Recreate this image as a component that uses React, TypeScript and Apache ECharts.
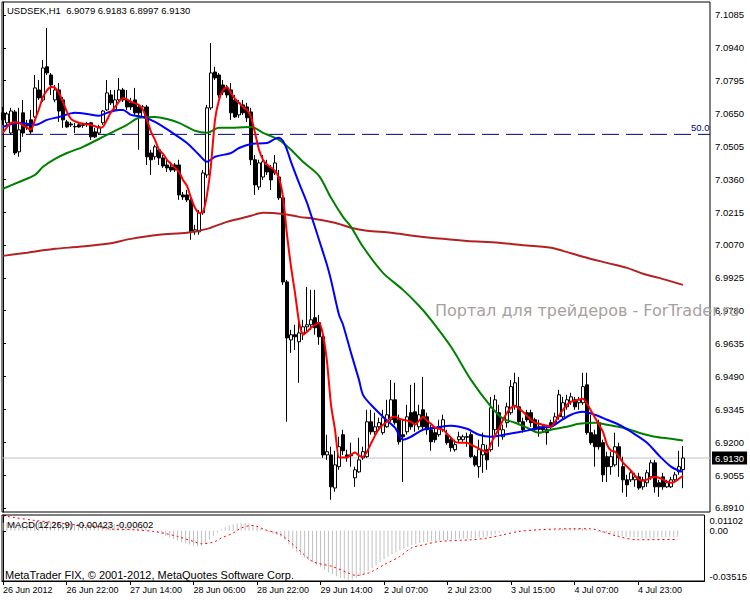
import React, { useEffect, useRef } from 'react';
import * as echarts from 'echarts';

const TIME_LABELS = ['26 Jun 2012', '26 Jun 22:00', '27 Jun 14:00', '28 Jun 06:00', '28 Jun 22:00', '29 Jun 14:00', '2 Jul 07:00', '2 Jul 23:00', '3 Jul 15:00', '4 Jul 07:00', '4 Jul 23:00'];
const TIME_LABEL_BARS = [0, 16, 32, 48, 64, 80, 96, 112, 128, 144, 160];
const PRICE_TICKS = [6.891, 6.9055, 6.92, 6.9345, 6.949, 6.9635, 6.978, 6.9925, 7.007, 7.0215, 7.036, 7.0505, 7.065, 7.0795, 7.094, 7.1085];
const MACD_TICKS = [-0.03515, 0, 0.01102];

const OPEN = [7.0653, 7.0609, 7.0564, 7.0657, 7.0481, 7.0653, 7.06, 7.0622, 7.0635, 7.0754, 7.071, 7.0856, 7.082, 7.071, 7.0754, 7.071, 7.0613, 7.0604, 7.0591, 7.06, 7.06, 7.0604, 7.0609, 7.0569, 7.0564, 7.0609, 7.0666, 7.0732, 7.0666, 7.071, 7.0754, 7.071, 7.0697, 7.071, 7.0679, 7.0635, 7.0679, 7.0476, 7.0459, 7.049, 7.0454, 7.0423, 7.0414, 7.0423, 7.0423, 7.0291, 7.0291, 7.0269, 7.0128, 7.0128, 7.0212, 7.0379, 7.0675, 7.0833, 7.082, 7.0776, 7.0763, 7.0754, 7.071, 7.0644, 7.0688, 7.0679, 7.0657, 7.0446, 7.0326, 7.037, 7.0423, 7.041, 7.0388, 7.037, 7.0278, 6.9907, 6.9651, 6.9674, 6.9643, 6.9682, 6.9709, 6.9718, 6.9749, 6.9727, 6.9665, 6.9144, 6.9144, 6.8998, 6.9092, 6.9233, 6.9144, 6.9144, 6.9043, 6.9069, 6.9131, 6.9136, 6.929, 6.9246, 6.9268, 6.9242, 6.9268, 6.9299, 6.9387, 6.9299, 6.9233, 6.9246, 6.933, 6.9334, 6.9268, 6.9343, 6.9312, 6.9255, 6.9242, 6.9233, 6.9255, 6.9233, 6.9211, 6.9167, 6.9211, 6.9211, 6.9224, 6.9233, 6.9136, 6.9092, 6.9144, 6.9167, 6.9167, 6.9255, 6.933, 6.9224, 6.9286, 6.933, 6.9356, 6.9356, 6.929, 6.933, 6.933, 6.9299, 6.9268, 6.9268, 6.9255, 6.9286, 6.9286, 6.9312, 6.9312, 6.9356, 6.9378, 6.9387, 6.9374, 6.9374, 6.9453, 6.9242, 6.9233, 6.9286, 6.9198, 6.9136, 6.9092, 6.91, 6.918, 6.9092, 6.9034, 6.9034, 6.9034, 6.9047, 6.9003, 6.9021, 6.9047, 6.9109, 6.9021, 6.9047, 6.9003, 6.9003, 6.9034, 6.9069, 6.9079];
const HIGH = [7.0679, 7.0657, 7.0675, 7.0666, 7.0675, 7.071, 7.0622, 7.0666, 7.082, 7.0798, 7.0886, 7.1028, 7.0829, 7.0776, 7.0785, 7.0723, 7.0622, 7.0613, 7.0609, 7.0609, 7.0609, 7.0613, 7.0613, 7.0587, 7.06, 7.0666, 7.0798, 7.0754, 7.0754, 7.0807, 7.0763, 7.0754, 7.0719, 7.0763, 7.0688, 7.0688, 7.0688, 7.049, 7.0512, 7.0498, 7.0467, 7.0446, 7.0437, 7.0432, 7.0446, 7.0304, 7.0313, 7.0278, 7.0159, 7.0225, 7.0401, 7.0688, 7.0961, 7.0856, 7.0829, 7.0798, 7.0776, 7.0785, 7.0732, 7.071, 7.071, 7.0697, 7.0675, 7.0467, 7.0446, 7.0467, 7.0446, 7.0423, 7.0467, 7.0401, 7.0291, 6.9916, 6.9696, 6.9718, 6.9762, 6.974, 6.9885, 6.9872, 6.9872, 6.9762, 6.9696, 6.9233, 6.918, 6.9162, 6.9224, 6.9255, 6.9167, 6.9198, 6.9092, 6.922, 6.918, 6.9343, 6.9343, 6.933, 6.9308, 6.9343, 6.9387, 6.9475, 6.9462, 6.9321, 6.9299, 6.9365, 6.9453, 6.9462, 6.9365, 6.9488, 6.933, 6.9277, 6.9268, 6.9299, 6.9321, 6.9255, 6.9224, 6.9211, 6.9246, 6.9233, 6.9242, 6.9246, 6.9144, 6.9211, 6.9242, 6.9189, 6.94, 6.9409, 6.9365, 6.9277, 6.9374, 6.9475, 6.9506, 6.9488, 6.9308, 6.9343, 6.9343, 6.9308, 6.9299, 6.9277, 6.9268, 6.9299, 6.933, 6.9431, 6.94, 6.9409, 6.9418, 6.94, 6.94, 6.9506, 6.9506, 6.9321, 6.9255, 6.9299, 6.9211, 6.9158, 6.9158, 6.9242, 6.9198, 6.9136, 6.9056, 6.9078, 6.9065, 6.9065, 6.9047, 6.9078, 6.9122, 6.9122, 6.9034, 6.9065, 6.9034, 6.9047, 6.9069, 6.9162, 6.9183];
const LOW = [7.06, 7.06, 7.0556, 7.0467, 7.0459, 7.0547, 7.0578, 7.056, 7.0631, 7.071, 7.0701, 7.082, 7.0732, 7.07, 7.0613, 7.0587, 7.0587, 7.0591, 7.0564, 7.0587, 7.0587, 7.0591, 7.0534, 7.0542, 7.0556, 7.06, 7.0661, 7.0688, 7.0661, 7.0701, 7.0701, 7.0666, 7.0666, 7.0644, 7.049, 7.0631, 7.0423, 7.0379, 7.0446, 7.0423, 7.041, 7.0392, 7.0392, 7.0392, 7.0269, 7.0269, 7.026, 7.0093, 7.0115, 7.0115, 7.0203, 7.0366, 7.0666, 7.0798, 7.0719, 7.0732, 7.0719, 7.0622, 7.0631, 7.0631, 7.0644, 7.0613, 7.0423, 7.0291, 7.0313, 7.0357, 7.0379, 7.0313, 7.0379, 7.0269, 6.9894, 6.929, 6.9594, 6.9607, 6.9462, 6.9651, 6.9687, 6.9696, 6.9674, 6.963, 6.9131, 6.9122, 6.8946, 6.8981, 6.9078, 6.9144, 6.9114, 6.9092, 6.9003, 6.9065, 6.9122, 6.9131, 6.9233, 6.9233, 6.9255, 6.9233, 6.9264, 6.929, 6.9277, 6.9189, 6.9024, 6.9233, 6.9255, 6.9246, 6.9255, 6.9255, 6.9233, 6.9162, 6.9198, 6.9224, 6.9246, 6.9189, 6.9158, 6.9158, 6.9198, 6.9202, 6.918, 6.9131, 6.9092, 6.9043, 6.9065, 6.9078, 6.9158, 6.9233, 6.918, 6.9211, 6.9264, 6.9321, 6.9343, 6.9286, 6.9242, 6.929, 6.9268, 6.9246, 6.9224, 6.9246, 6.9189, 6.9255, 6.9277, 6.9299, 6.9299, 6.9343, 6.9365, 6.9343, 6.9343, 6.9365, 6.9233, 6.9189, 6.9092, 6.9167, 6.9024, 6.9024, 6.9056, 6.9092, 6.9047, 6.8977, 6.8959, 6.9024, 6.9003, 6.899, 6.899, 6.9003, 6.9034, 6.8977, 6.8959, 6.899, 6.8998, 6.8998, 6.9024, 6.9056, 6.8997];
const CLOSE = [7.0622, 7.0648, 7.0661, 7.0476, 7.0578, 7.0564, 7.0595, 7.0569, 7.0763, 7.0719, 7.0851, 7.0829, 7.0776, 7.0754, 7.0661, 7.0622, 7.0591, 7.06, 7.0593, 7.0591, 7.0598, 7.0606, 7.0547, 7.0547, 7.0591, 7.0661, 7.0741, 7.0697, 7.071, 7.0754, 7.071, 7.0679, 7.0679, 7.0653, 7.0653, 7.0679, 7.0459, 7.0446, 7.0503, 7.0454, 7.0419, 7.041, 7.0401, 7.0401, 7.0291, 7.0282, 7.0269, 7.0128, 7.0137, 7.0212, 7.0388, 7.0675, 7.0829, 7.0807, 7.0732, 7.0745, 7.0732, 7.0653, 7.0635, 7.0697, 7.0653, 7.0631, 7.0446, 7.0335, 7.0432, 7.0437, 7.0392, 7.0357, 7.0432, 7.0278, 6.9907, 6.966, 6.9674, 6.9665, 6.9682, 6.9709, 6.9718, 6.974, 6.9705, 6.9665, 6.9144, 6.9158, 6.9003, 6.91, 6.918, 6.9162, 6.9136, 6.914, 6.9078, 6.9122, 6.9158, 6.929, 6.9246, 6.9268, 6.9286, 6.9308, 6.9321, 6.9387, 6.9286, 6.9202, 6.9224, 6.9312, 6.9268, 6.9286, 6.9321, 6.9268, 6.9255, 6.9202, 6.9211, 6.9268, 6.9299, 6.9198, 6.9176, 6.9189, 6.9224, 6.9224, 6.9222, 6.9136, 6.91, 6.9167, 6.9189, 6.9122, 6.9352, 6.9387, 6.9255, 6.9255, 6.9356, 6.9445, 6.9462, 6.929, 6.9255, 6.9299, 6.9286, 6.9255, 6.9257, 6.9255, 6.9242, 6.9268, 6.9312, 6.9409, 6.9374, 6.9387, 6.94, 6.9356, 6.9387, 6.9445, 6.9242, 6.9198, 6.918, 6.918, 6.9056, 6.9092, 6.9136, 6.918, 6.9131, 6.9034, 6.9012, 6.9065, 6.9047, 6.8998, 6.9034, 6.9065, 6.9109, 6.9003, 6.9003, 6.9003, 6.9021, 6.9034, 6.9056, 6.9092, 6.913];

const RED_MA = [7.0565, 7.059, 7.0609, 7.0612, 7.0609, 7.0598, 7.0587, 7.0578, 7.0622, 7.067, 7.0723, 7.0752, 7.0767, 7.0763, 7.0741, 7.0701, 7.0657, 7.0626, 7.0615, 7.0609, 7.0605, 7.0602, 7.06, 7.0594, 7.0587, 7.0591, 7.0622, 7.0657, 7.0679, 7.0703, 7.0719, 7.0712, 7.0701, 7.0695, 7.0688, 7.0666, 7.0622, 7.0569, 7.0534, 7.049, 7.0472, 7.0446, 7.0428, 7.0411, 7.0393, 7.0357, 7.0331, 7.0278, 7.0234, 7.0212, 7.0216, 7.0291, 7.0424, 7.0622, 7.071, 7.0754, 7.0767, 7.0741, 7.0715, 7.0697, 7.0679, 7.0666, 7.0635, 7.0565, 7.049, 7.0446, 7.0424, 7.0411, 7.0397, 7.0366, 7.0282, 7.0115, 6.9974, 6.9859, 6.9731, 6.9674, 6.9687, 6.9705, 6.9718, 6.9727, 6.9674, 6.9555, 6.9365, 6.9255, 6.9132, 6.9132, 6.9132, 6.9145, 6.9154, 6.9141, 6.9136, 6.9158, 6.9194, 6.9229, 6.9259, 6.9277, 6.929, 6.9308, 6.9312, 6.9304, 6.9299, 6.9295, 6.929, 6.9277, 6.9295, 6.9312, 6.9295, 6.9281, 6.9264, 6.9259, 6.9255, 6.9237, 6.922, 6.9202, 6.9198, 6.9198, 6.9198, 6.9189, 6.918, 6.9172, 6.9163, 6.9154, 6.9194, 6.9229, 6.9259, 6.9299, 6.933, 6.9352, 6.9361, 6.9348, 6.9334, 6.9317, 6.9299, 6.9286, 6.9281, 6.9277, 6.9273, 6.9268, 6.929, 6.9317, 6.9343, 6.9365, 6.9379, 6.9383, 6.9388, 6.9392, 6.937, 6.9339, 6.9308, 6.9277, 6.9246, 6.9189, 6.9163, 6.9158, 6.9136, 6.911, 6.9092, 6.9074, 6.9052, 6.9035, 6.903, 6.9035, 6.9043, 6.9048, 6.9043, 6.9035, 6.9026, 6.9021, 6.9026, 6.9039, 6.9052];

const BLUE_MA = [[0, 7.0591], [4, 7.0609], [8, 7.06], [11, 7.0622], [14, 7.0635], [18, 7.0653], [21, 7.0648], [24, 7.064], [26, 7.0653], [29, 7.0666], [30, 7.0666], [32, 7.0644], [35, 7.0635], [38, 7.0613], [42, 7.0569], [46, 7.052], [49, 7.0468], [51, 7.0437], [53, 7.0459], [57, 7.0476], [59, 7.0498], [62, 7.0516], [66, 7.052], [68, 7.0538], [69, 7.0543], [70, 7.0529], [71, 7.049], [72, 7.0437], [74, 7.0344], [76, 7.0256], [77, 7.0203], [79, 7.0093], [81, 6.9982], [82, 6.9916], [84, 6.9762], [85, 6.9718], [87, 6.9594], [89, 6.9475], [90, 6.9409], [92, 6.9365], [95, 6.9312], [98, 6.9264], [100, 6.9211], [102, 6.9224], [105, 6.9255], [108, 6.9264], [112, 6.9273], [116, 6.9259], [119, 6.9233], [122, 6.9224], [124, 6.9229], [128, 6.9242], [131, 6.9251], [134, 6.9264], [137, 6.9268], [139, 6.929], [142, 6.9321], [145, 6.9334], [148, 6.9321], [151, 6.9299], [154, 6.9277], [157, 6.9246], [161, 6.9198], [164, 6.9141], [167, 6.9092], [169, 6.9074], [170, 6.907]];
const GREEN_MA = [[0, 7.0318], [4, 7.0348], [8, 7.0379], [10, 7.0415], [13, 7.045], [16, 7.0476], [20, 7.0503], [26, 7.0556], [31, 7.06], [34, 7.0631], [38, 7.0635], [41, 7.0626], [44, 7.0609], [48, 7.0574], [51, 7.0565], [54, 7.0587], [58, 7.0587], [62, 7.0591], [65, 7.0565], [69, 7.0534], [72, 7.049], [75, 7.0437], [79, 7.0375], [82, 7.0278], [85, 7.0194], [87, 7.015], [90, 7.0062], [95, 6.9947], [100, 6.9872], [104, 6.9802], [107, 6.974], [112, 6.9621], [117, 6.9475], [122, 6.9357], [125, 6.9304], [128, 6.9286], [131, 6.9264], [134, 6.9242], [137, 6.9255], [141, 6.9268], [144, 6.9281], [148, 6.9286], [151, 6.9277], [155, 6.9264], [159, 6.9242], [163, 6.9224], [167, 6.9215], [170, 6.9207]];
const BROWN_MA = [[0, 7.0022], [6, 7.0036], [13, 7.0053], [19, 7.0062], [26, 7.0075], [32, 7.0097], [39, 7.0115], [46, 7.0124], [51, 7.0141], [56, 7.0172], [62, 7.0199], [65, 7.0212], [70, 7.0207], [74, 7.0194], [78, 7.0185], [83, 7.0168], [87, 7.0146], [91, 7.0133], [97, 7.0124], [103, 7.011], [110, 7.0097], [116, 7.0088], [124, 7.008], [129, 7.0071], [137, 7.0058], [140, 7.0044], [145, 7.0018], [151, 6.9991], [156, 6.9969], [160, 6.9943], [164, 6.9925], [170, 6.9894]];

const MACD_MAIN = [0.0056, 0.0058, 0.0058, 0.0056, 0.0054, 0.0053, 0.0052, 0.0052, 0.0055, 0.0058, 0.0061, 0.0063, 0.0063, 0.0062, 0.006, 0.0057, 0.0054, 0.0051, 0.0048, 0.0046, 0.0044, 0.0042, 0.004, 0.0038, 0.0038, 0.004, 0.0043, 0.0045, 0.0046, 0.0047, 0.0047, 0.0046, 0.0044, 0.0041, 0.0036, 0.003, 0.002, 0.001, 0.0, -0.0012, -0.0024, -0.0036, -0.0047, -0.0058, -0.0068, -0.0078, -0.0087, -0.0096, -0.0104, -0.011, -0.0105, -0.0088, -0.0062, -0.0036, -0.0012, 0.0008, 0.0024, 0.0036, 0.0045, 0.0051, 0.0054, 0.0054, 0.005, 0.0042, 0.003, 0.0016, 0.0002, -0.001, -0.002, -0.003, -0.0042, -0.0066, -0.0095, -0.0125, -0.015, -0.017, -0.0188, -0.0204, -0.022, -0.0236, -0.0254, -0.0272, -0.029, -0.0305, -0.0318, -0.0328, -0.0336, -0.0342, -0.034, -0.033, -0.0318, -0.0302, -0.0282, -0.0262, -0.024, -0.0218, -0.0198, -0.018, -0.0163, -0.0148, -0.0135, -0.0122, -0.011, -0.01, -0.0092, -0.0085, -0.008, -0.0076, -0.0073, -0.0071, -0.0069, -0.0067, -0.0064, -0.0061, -0.0058, -0.0056, -0.0054, -0.0052, -0.0051, -0.005, -0.0048, -0.0045, -0.004, -0.0033, -0.0025, -0.0016, -0.0009, -0.0002, 0.0003, 0.0005, 0.0005, 0.0004, 0.0003, 0.0003, 0.0002, 0.0002, 0.0002, 0.0002, 0.0004, 0.0007, 0.001, 0.0013, 0.0015, 0.0016, 0.0017, 0.0018, 0.0015, 0.001, 0.0005, 0.0, -0.0008, -0.0015, -0.0021, -0.0027, -0.0032, -0.0036, -0.0039, -0.0042, -0.0044, -0.0046, -0.0047, -0.0048, -0.0049, -0.0049, -0.0049, -0.0048, -0.0047, -0.0046, -0.0045, -0.0044, -0.00423];
const MACD_SIGNAL = [[0, 0.0105], [3, 0.0092], [8, 0.0072], [13, 0.0058], [18, 0.0042], [23, 0.003], [27, 0.0012], [33, 0.0007], [38, -0.0005], [41, -0.002], [44, -0.004], [48, -0.0075], [50, -0.0091], [53, -0.008], [55, -0.0051], [58, -0.0016], [60, 0.0019], [62, 0.0035], [63, 0.0037], [66, 0.0007], [70, -0.0028], [74, -0.0119], [78, -0.0215], [83, -0.025], [87, -0.0296], [89, -0.0313], [92, -0.0296], [93, -0.0285], [96, -0.0238], [100, -0.018], [103, -0.0119], [106, -0.0098], [110, -0.0075], [118, -0.0063], [122, -0.0051], [126, -0.0028], [130, -0.0005], [135, 0.0007], [143, 0.0014], [148, 0.0014], [151, -0.0005], [155, -0.004], [160, -0.0063], [170, -0.00602]];

const FIB_50 = 7.0558;
const LAST_PRICE = 6.913;
const X_MIN = -0.25;
const X_MAX = 176.75;

const FONT = 'Liberation Sans';

export default function App() {
  const ref = useRef<HTMLDivElement>(null);
  useEffect(() => {
    if (!ref.current) return;
    const chart = echarts.init(ref.current, null, { renderer: 'svg' });
    const candles = OPEN.map((o, i) => [i, o, CLOSE[i], LOW[i], HIGH[i]]);
    const option: any = {
      animation: false,
      backgroundColor: '#fff',
      textStyle: { fontFamily: FONT },
      grid: [
        { left: 2, top: 2, width: 708, height: 510, show: true, borderColor: '#000', borderWidth: 1, backgroundColor: '#fff' },
        { left: 2, top: 515, width: 708, height: 66, show: true, borderColor: '#000', borderWidth: 1, backgroundColor: '#fff' },
      ],
      xAxis: [
        { type: 'value', gridIndex: 0, min: X_MIN, max: X_MAX, show: false, splitLine: { show: false } },
        {
          type: 'value', gridIndex: 1, min: X_MIN, max: X_MAX, position: 'bottom',
          axisLine: { show: true, onZero: false, lineStyle: { color: '#000', width: 1 } },
          axisTick: { show: true, customValues: TIME_LABEL_BARS, length: 4, lineStyle: { color: '#000' } },
          axisLabel: {
            customValues: TIME_LABEL_BARS, align: 'left', margin: 4, fontSize: 9, color: '#000', fontFamily: FONT,
            formatter: (v: number) => { const k = TIME_LABEL_BARS.indexOf(Math.round(v)); return k >= 0 ? TIME_LABELS[k] : ''; },
          },
          splitLine: { show: false },
        },
      ],
      yAxis: [
        {
          type: 'value', gridIndex: 0, min: 6.8892, max: 7.1142, position: 'right',
          axisLine: { show: true, lineStyle: { color: '#000' } },
          axisTick: { show: true, customValues: PRICE_TICKS, length: 3, lineStyle: { color: '#000' } },
          axisLabel: { customValues: PRICE_TICKS, margin: 5, fontSize: 9.5, color: '#000', fontFamily: FONT, formatter: (v: number) => v.toFixed(4) },
          splitLine: { show: false },
        },
        {
          type: 'value', gridIndex: 1, min: -0.03515, max: 0.01102, position: 'right',
          axisLine: { show: true, lineStyle: { color: '#000' } },
          axisTick: { show: true, customValues: MACD_TICKS, length: 3, lineStyle: { color: '#000' } },
          axisLabel: {
            customValues: MACD_TICKS, margin: 5, fontSize: 9.5, color: '#000', fontFamily: FONT,
            formatter: (v: number) => {
              if (Math.abs(v) < 1e-9) return '0.00';
              if (v > 0) return '{t|' + v.toFixed(5) + '}';
              return '{b|' + v.toFixed(5) + '}';
            },
            rich: {
              t: { padding: [10, 0, 0, 0], fontSize: 9.5, color: '#000', fontFamily: FONT },
              b: { padding: [0, 0, 10, 0], fontSize: 9.5, color: '#000', fontFamily: FONT },
            },
          },
          splitLine: { show: false },
        },
      ],
      series: [
        {
          type: 'line', xAxisIndex: 0, yAxisIndex: 0, data: [[X_MIN, LAST_PRICE], [X_MAX, LAST_PRICE]], showSymbol: false, z: 1, silent: true,
          lineStyle: { color: '#c0c0c0', width: 1 },
          endLabel: { show: true, distance: 2, formatter: LAST_PRICE.toFixed(4), color: '#fff', backgroundColor: '#000', padding: [2, 3, 1, 3], fontSize: 9.5, fontFamily: FONT },
        },
        {
          type: 'candlestick', xAxisIndex: 0, yAxisIndex: 0, data: candles, barWidth: 3, z: 2,
          itemStyle: { color: '#fff', color0: '#000', borderColor: '#000', borderColor0: '#000', borderWidth: 1 },
        },
        {
          type: 'line', xAxisIndex: 0, yAxisIndex: 0, data: [[X_MIN, FIB_50], [X_MAX, FIB_50]], showSymbol: false, z: 2, silent: true,
          lineStyle: { color: '#000080', width: 1, type: [17, 7] },
          endLabel: { show: true, distance: 5, offset: [-24, -7], formatter: '50.0', color: '#000080', fontSize: 9.5, fontFamily: FONT },
        },
        { type: 'line', xAxisIndex: 0, yAxisIndex: 0, data: BROWN_MA, showSymbol: false, smooth: 0.3, z: 3, lineStyle: { color: '#b22222', width: 2 } },
        { type: 'line', xAxisIndex: 0, yAxisIndex: 0, data: GREEN_MA, showSymbol: false, smooth: 0.3, z: 4, lineStyle: { color: '#008000', width: 2 } },
        { type: 'line', xAxisIndex: 0, yAxisIndex: 0, data: BLUE_MA, showSymbol: false, smooth: 0.3, z: 5, lineStyle: { color: '#0000ff', width: 2 } },
        { type: 'line', xAxisIndex: 0, yAxisIndex: 0, data: RED_MA.map((v, i) => [i, v]), showSymbol: false, smooth: 0.2, z: 6, lineStyle: { color: '#ff0000', width: 2 } },
        { type: 'bar', xAxisIndex: 1, yAxisIndex: 1, data: MACD_MAIN.map((v, i) => [i, v]), barWidth: 1, itemStyle: { color: '#c0c0c0' } },
        { type: 'line', xAxisIndex: 1, yAxisIndex: 1, data: MACD_SIGNAL, showSymbol: false, smooth: 0.3, lineStyle: { color: '#ff0000', width: 1, type: [2, 3] } },
      ],
      graphic: [
        { type: 'text', left: 7, top: 5, z: 100, style: { text: 'USDSEK,H1  6.9079 6.9183 6.8997 6.9130', fontSize: 9.5, fontFamily: FONT, fill: '#000' } },
        { type: 'text', left: 435, top: 302, z: 100, style: { text: 'Портал для трейдеров - ForTrader.ru', fontSize: 16, fontFamily: 'DejaVu Sans', fill: '#a8a0a0' } },
        { type: 'text', left: 7, top: 519, z: 100, style: { text: 'MACD(12,26,9) -0.00423 -0.00602', fontSize: 9.5, fontFamily: FONT, fill: '#000' } },
        { type: 'text', left: 5, top: 569, z: 100, style: { text: 'MetaTrader FIX, © 2001-2012, MetaQuotes Software Corp.', fontSize: 11, fontFamily: FONT, fill: '#000' } },
      ],
    };
    chart.setOption(option);
    return () => chart.dispose();
  }, []);
  return <div ref={ref} style={{ position: 'absolute', left: 0, top: 0, width: 750, height: 600, background: '#fff' }} />;
}
